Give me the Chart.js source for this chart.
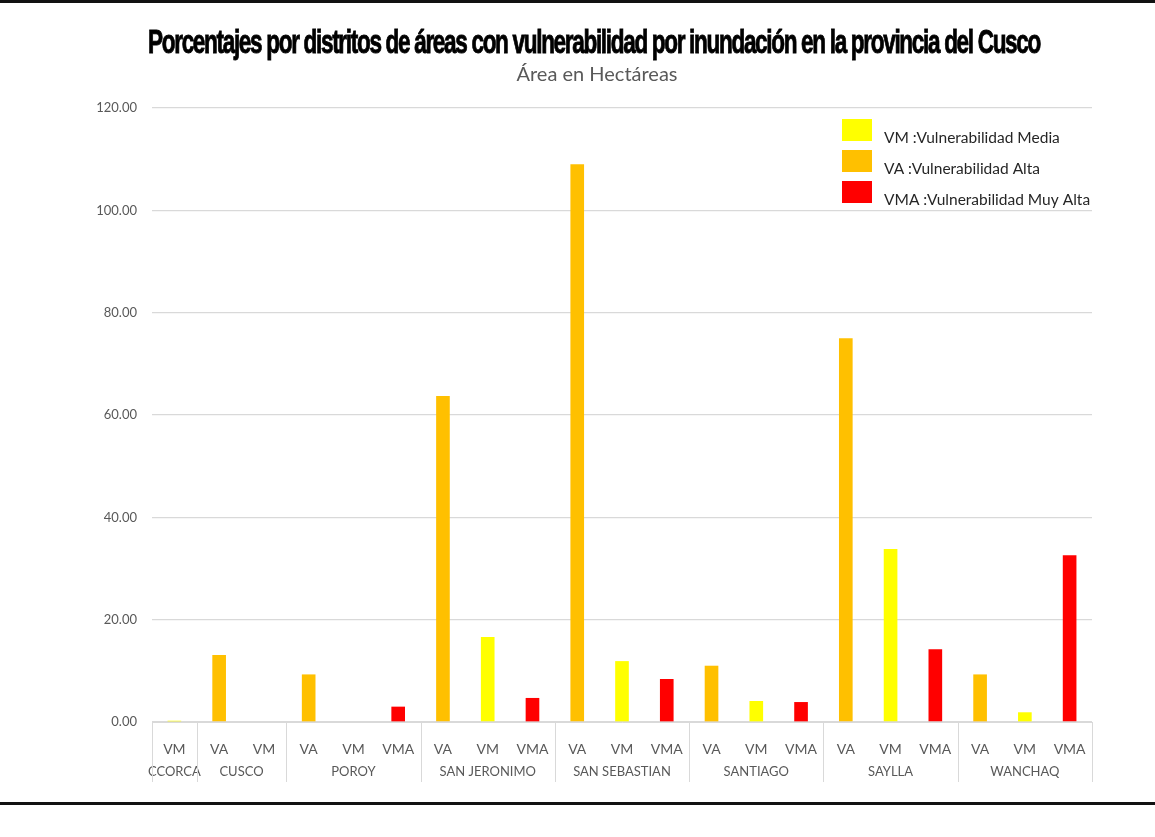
<!DOCTYPE html>
<html>
<head>
<meta charset="utf-8">
<script src="https://cdn.jsdelivr.net/npm/chart.js@4"></script>
<style>
html,body{margin:0;padding:0;background:#fff;}
canvas{display:block;}
</style>
</head>
<body>
<canvas id="c" width="1155" height="837"></canvas>
<script>
const titleText = 'Porcentajes por distritos de áreas con vulnerabilidad por inundación en la provincia del Cusco';
const subtitleText = 'Área en Hectáreas';
const categories = ['VM','VA','VM','VA','VM','VMA','VA','VM','VMA','VA','VM','VMA','VA','VM','VMA','VA','VM','VMA','VA','VM','VMA'];
const districts = ['CCORCA','CUSCO','POROY','SAN JERONIMO','SAN SEBASTIAN','SANTIAGO','SAYLLA','WANCHAQ'];
const districtSpans = [1,2,3,3,3,3,3,3];
const vmValues  = [0.25,null,0,null,0,null,null,16.6,null,null,11.9,null,null,4.1,null,null,33.8,null,null,1.9,null];
const vaValues  = [null,13.1,null,9.3,null,null,63.7,null,null,109.0,null,null,11.0,null,null,75.0,null,null,9.3,null,null];
const vmaValues = [null,null,null,null,null,3.0,null,null,4.7,null,null,8.4,null,null,3.9,null,null,14.2,null,null,32.6];
const seriesLabels = ['VM :Vulnerabilidad Media','VA :Vulnerabilidad Alta','VMA :Vulnerabilidad Muy Alta'];
const yTicks = [0,20,40,60,80,100,120];

const colors = ['#FFFF00','#FFC000','#FF0000'];
const gridColor = '#d9d9d9';
const textGray = '#595959';
const fam = 'Lato, "Noto Sans", sans-serif';

const decor = {
  id: 'decor',
  beforeDraw(chart) {
    const ctx = chart.ctx;
    ctx.save();
    ctx.fillStyle = '#fff';
    ctx.fillRect(0,0,chart.width,chart.height);
    ctx.restore();
  },
  afterDraw(chart) {
    const ctx = chart.ctx;
    const x = chart.scales.x;
    const ca = chart.chartArea;
    ctx.save();
    // frame lines
    ctx.fillStyle = '#111';
    ctx.fillRect(0,0,chart.width,3);
    ctx.fillRect(0,802,chart.width,3);
    // title
    ctx.font = 'bold 34px "Liberation Sans Narrow", "Liberation Sans", sans-serif';
    try { ctx.letterSpacing = '-2px'; } catch(e) {}
    ctx.fillStyle = '#000';
    ctx.strokeStyle = '#000';
    ctx.lineWidth = 0.9;
    ctx.textBaseline = 'alphabetic';
    ctx.textAlign = 'left';
    const tw = ctx.measureText(titleText).width;
    const target = 892;
    const sx = target / tw;
    ctx.save();
    ctx.translate(148, 53);
    ctx.scale(sx, 1);
    ctx.fillText(titleText, 0, 0);
    ctx.strokeText(titleText, 0, 0);
    ctx.restore();
    try { ctx.letterSpacing = '0px'; } catch(e) {}
    // subtitle
    ctx.font = '20px ' + fam;
    ctx.fillStyle = textGray;
    ctx.textAlign = 'center';
    ctx.textBaseline = 'middle';
    ctx.fillText(subtitleText, 597, 75);
    // group separators and labels
    ctx.strokeStyle = gridColor;
    ctx.lineWidth = 1;
    const top = ca.bottom;
    const bottom = ca.bottom + 60;
    let start = 0;
    const half = (x.getPixelForValue(1) - x.getPixelForValue(0)) / 2;
    const edges = [x.getPixelForValue(0) - half];
    districtSpans.forEach((span, i) => {
      const end = start + span - 1;
      const left = x.getPixelForValue(start) - half;
      const right = x.getPixelForValue(end) + half;
      edges.push(right);
      ctx.font = '13px ' + fam;
      ctx.fillStyle = textGray;
      ctx.textAlign = 'center';
      ctx.textBaseline = 'middle';
      ctx.fillText(districts[i], (left + right) / 2, ca.bottom + 50);
      start += span;
    });
    edges.forEach(ex => {
      const px = Math.round(ex) + 0.5;
      ctx.beginPath();
      ctx.moveTo(px, top);
      ctx.lineTo(px, bottom);
      ctx.stroke();
    });
    // legend
    const lx = 842, ly = 119, bw = 30, bh = 22, step = 31;
    chart.data.datasets.forEach((ds, i) => {
      ctx.fillStyle = ds.backgroundColor;
      ctx.fillRect(lx, ly + i * step, bw, bh);
      ctx.fillStyle = '#262626';
      ctx.font = '15.5px ' + fam;
      ctx.textAlign = 'left';
      ctx.textBaseline = 'middle';
      ctx.fillText(ds.label, 884, ly + i * step + 19);
    });
    ctx.restore();
  }
};

new Chart(document.getElementById('c'), {
  type: 'bar',
  data: {
    labels: categories,
    datasets: [
      {label: seriesLabels[0], data: vmValues, backgroundColor: colors[0]},
      {label: seriesLabels[1], data: vaValues, backgroundColor: colors[1]},
      {label: seriesLabels[2], data: vmaValues, backgroundColor: colors[2]}
    ]
  },
  options: {
    responsive: false,
    animation: false,
    devicePixelRatio: 1,
    layout: {padding: {left: 0, right: 63, top: 108, bottom: 55}},
    datasets: {bar: {barPercentage: 0.305, categoryPercentage: 1, skipNull: true}},
    plugins: {
      legend: {display: false},
      title: {display: false},
      tooltip: {enabled: false}
    },
    scales: {
      x: {
        stacked: true,
        grid: {display: false},
        border: {display: true, color: gridColor, width: 1},
        ticks: {
          color: textGray,
          font: {family: fam, size: 14},
          padding: 11,
          maxRotation: 0,
          autoSkip: false
        },
        afterFit(scale) { scale.height = 60; }
      },
      y: {
        stacked: true,
        min: 0,
        max: 120,
        afterBuildTicks(scale) { scale.ticks = yTicks.map(v => ({value: v})); },
        grid: {color: gridColor, lineWidth: 1.3, drawTicks: false},
        border: {display: false},
        ticks: {
          color: textGray,
          font: {family: fam, size: 13},
          padding: 15,
          callback: v => Number(v).toFixed(2)
        },
        afterFit(scale) { scale.width = 152; }
      }
    }
  },
  plugins: [decor]
});
</script>
</body>
</html>
